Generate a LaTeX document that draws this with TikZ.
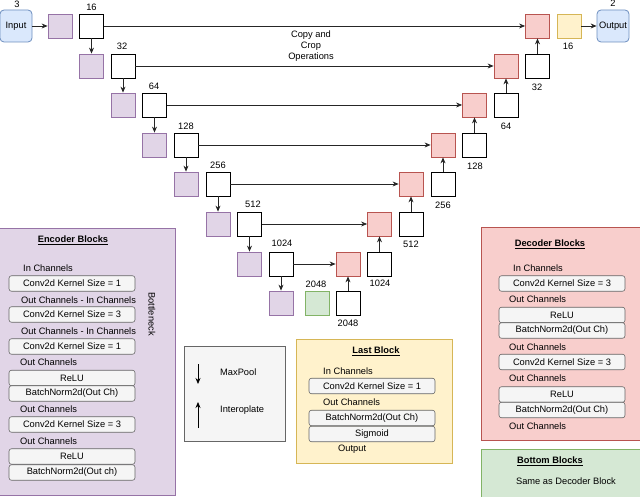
\documentclass[tikz,border=0pt]{standalone}
\usepackage{fontspec}
\setmainfont{Liberation Sans}
\usetikzlibrary{arrows.meta}
\definecolor{purF}{HTML}{E1D5E7}\definecolor{purD}{HTML}{9673A6}
\definecolor{redF}{HTML}{F8CECC}\definecolor{redD}{HTML}{B85450}
\definecolor{grnF}{HTML}{D5E8D4}\definecolor{grnD}{HTML}{82B366}
\definecolor{yelF}{HTML}{FFF2CC}\definecolor{yelD}{HTML}{D6B656}
\definecolor{bluF}{HTML}{DAE8FC}\definecolor{bluD}{HTML}{6C8EBF}
\definecolor{gryF}{HTML}{F5F5F5}\definecolor{gryD}{HTML}{666666}
\begin{document}
\begin{tikzpicture}[x=1pt,y=-1pt,
  every node/.style={font=\fontsize{9.3}{11}\selectfont, inner sep=0pt},
  sq/.style={draw, line width=0.8pt, minimum width=24pt, minimum height=24pt},
  wsq/.style={sq, draw=black, fill=white},
  psq/.style={sq, draw=purD, fill=purF},
  rsq/.style={sq, draw=redD, fill=redF},
  gsq/.style={sq, draw=grnD, fill=grnF},
  ysq/.style={sq, draw=yelD, fill=yelF},
  io/.style={draw=bluD, fill=bluF, line width=0.8pt, rounded corners=4pt, minimum width=32pt, minimum height=32pt},
  lbl/.style={font=\fontsize{9.3}{11}\selectfont},
  conn/.style={draw=black!85, line width=0.75pt, -{Stealth[length=6pt,width=5pt]}},
  panel/.style={line width=0.8pt},
  ibox/.style={draw=gryD, fill=gryF, rounded corners=2.5pt, line width=0.6pt, minimum height=15.5pt, minimum width=126pt},
  ttl/.style={font=\fontsize{9.3}{11}\selectfont\bfseries},
  txt/.style={anchor=west}
]
\useasboundingbox (0,0) rectangle (640,497);

% ---------- bottom panels ----------
\draw[panel, draw=purD, fill=purF] (-2,228) rectangle (175,495);
\draw[panel, draw=gryD, fill=gryF] (184,346) rectangle (285,441);
\draw[panel, draw=yelD, fill=yelF] (296,339) rectangle (452,463);
\draw[panel, draw=redD, fill=redF] (481,227) rectangle (642,440);
\draw[panel, draw=grnD, fill=grnF] (481,449) rectangle (642,499);

% Encoder blocks
\node[ttl] (encT) at (73,240) {\underline{Encoder Blocks}};
\node[txt] (e1) at (23,268) {In Channels};
\node[ibox] (eb1) at (72,283.5) {Conv2d Kernel Size = 1};
\node[txt] (e2) at (21,300) {Out Channels - In Channels};
\node[ibox] (eb2) at (72,314.5) {Conv2d Kernel Size = 3};
\node[txt] (e3) at (21,331) {Out Channels - In Channels};
\node[ibox] (eb3) at (72,346.5) {Conv2d Kernel Size = 1};
\node[txt] (e4) at (20,362) {Out Channels};
\node[ibox] (eb4) at (72,378) {ReLU};
\node[ibox] (eb5) at (72,393.5) {BatchNorm2d(Out Ch)};
\node[txt] (e5) at (20,409) {Out Channels};
\node[ibox] (eb6) at (72,424.5) {Conv2d Kernel Size = 3};
\node[txt] (e6) at (20,441) {Out Channels};
\node[ibox] (eb7) at (72,456.5) {ReLU};
\node[ibox] (eb8) at (72,472.5) {BatchNorm2d(Out ch)};
\node[rotate=-90] (bn) at (152,314) {Bottleneck};

% Legend
\coordinate (l1a) at (198,364);
\coordinate (l1b) at (198,384);
\coordinate (l2a) at (198,428);
\coordinate (l2b) at (198,402);
\draw[conn, black] (l1a) -- (l1b);
\draw[conn, black] (l2a) -- (l2b);
\node[txt] (mp) at (220,372) {MaxPool};
\node[txt] (ip) at (220,410) {Interoplate};

% Last block
\node[ttl] (lastT) at (376,351) {\underline{Last Block}};
\node[txt] (l1) at (323,371) {In Channels};
\node[ibox] (lb1) at (372,386) {Conv2d Kernel Size = 1};
\node[txt] (l2) at (323,402) {Out Channels};
\node[ibox] (lb2) at (372,418) {BatchNorm2d(Out Ch)};
\node[ibox] (lb3) at (372,434) {Sigmoid};
\node[txt] (l3) at (338,449) {Output};

% Decoder blocks
\node[ttl] (decT) at (550,244) {\underline{Decoder Blocks}};
\node[txt] (d1) at (513,268) {In Channels};
\node[ibox] (db1) at (562,283.5) {Conv2d Kernel Size = 3};
\node[txt] (d2) at (509,299) {Out Channels};
\node[ibox] (db2) at (562,315) {ReLU};
\node[ibox] (db3) at (562,330.5) {BatchNorm2d(Out Ch)};
\node[txt] (d3) at (509,347) {Out Channels};
\node[ibox] (db4) at (562,362) {Conv2d Kernel Size = 3};
\node[txt] (d4) at (509,378) {Out Channels};
\node[ibox] (db5) at (562,394.5) {ReLU};
\node[ibox] (db6) at (562,410) {BatchNorm2d(Out Ch)};
\node[txt] (d5) at (509,426) {Out Channels};

% Bottom blocks
\node[ttl] (botT) at (550,461) {\underline{Bottom Blocks}};
\node (bot) at (566,481) {Same as Decoder Block};

% ---------- U-Net ----------
\node[io] (in) at (16,26) {Input};
\node[lbl] (inL) at (17,4) {3};
\node[io] (out) at (613,26) {Output};
\node[lbl] (outL) at (613,3) {2};

% encoder
\node[psq] (p0) at (60,26) {};
\node[wsq] (w0) at (91.5,26) {};
\node[psq] (p1) at (91.5,66) {};
\node[wsq] (w1) at (123,66) {};
\node[psq] (p2) at (123,105) {};
\node[wsq] (w2) at (154.5,105) {};
\node[psq] (p3) at (154.5,145) {};
\node[wsq] (w3) at (186,145) {};
\node[psq] (p4) at (186,184) {};
\node[wsq] (w4) at (218,184) {};
\node[psq] (p5) at (218,224) {};
\node[wsq] (w5) at (249.5,224) {};
\node[psq] (p6) at (249.5,264) {};
\node[wsq] (w6) at (281,264) {};
\node[psq] (p7) at (281,303) {};
\node[gsq] (g7) at (317,303) {};
\node[wsq] (v7) at (348,303) {};

% decoder
\node[rsq] (r6) at (348,264) {};
\node[wsq] (v6) at (379.5,264) {};
\node[rsq] (r5) at (379.5,224) {};
\node[wsq] (v5) at (411,224) {};
\node[rsq] (r4) at (411,184) {};
\node[wsq] (v4) at (443,184) {};
\node[rsq] (r3) at (443,145) {};
\node[wsq] (v3) at (474.5,145) {};
\node[rsq] (r2) at (474.5,105) {};
\node[wsq] (v2) at (506,105) {};
\node[rsq] (r1) at (506,66) {};
\node[wsq] (v1) at (537.5,66) {};
\node[rsq] (r0) at (537.5,26) {};
\node[ysq] (y0) at (569,26) {};

% labels
\node[lbl] at (91.5,7) {16};
\node[lbl] at (122,46) {32};
\node[lbl] at (154,86) {64};
\node[lbl] at (186,126) {128};
\node[lbl] at (218,165) {256};
\node[lbl] at (253,204) {512};
\node[lbl] at (282,243) {1024};
\node[lbl] at (316,284) {2048};
\node[lbl] at (348,323) {2048};
\node[lbl] at (380,283) {1024};
\node[lbl] at (411,244) {512};
\node[lbl] at (443,205) {256};
\node[lbl] at (475,166) {128};
\node[lbl] at (506,126) {64};
\node[lbl] at (537,87) {32};
\node[lbl] at (568,46) {16};
\node[align=center, font=\fontsize{9.3}{11}\selectfont] (cc) at (311,46) {Copy and\\Crop\\Operations};

% connectors
\draw[conn] (in) -- (p0);
\draw[conn] (y0) -- (out);
\foreach \a/\b in {w0/p1,w1/p2,w2/p3,w3/p4,w4/p5,w5/p6,w6/p7}
  \draw[conn] (\a) -- (\b);
\foreach \a/\b in {w0/r0,w1/r1,w2/r2,w3/r3,w4/r4,w5/r5,w6/r6}
  \draw[conn] (\a) -- (\b);
\foreach \a/\b in {v7/r6,v6/r5,v5/r4,v4/r3,v3/r2,v2/r1,v1/r0}
  \draw[conn] (\a) -- (\b);
\end{tikzpicture}
\end{document}
